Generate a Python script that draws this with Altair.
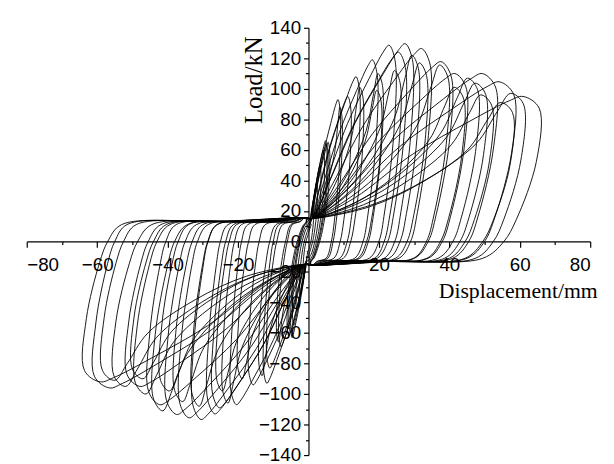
import altair as alt
import pandas as pd

# ---- Peak values of each load cycle ----
pos_disp = [1.5, 2.5, 3.5, 4.5, 5.2, 5.5, 6.0, 9.0, 9.5, 12.0, 14.5, 15.5, 19.5, 20.6, 21.0,
            24.6, 27.5, 26.0, 29.5, 31.2, 33.5, 34.5, 40.5, 39.6, 44.7, 44.0, 48.0, 53.1,
            50.3, 52.0, 58.3, 61.0, 57.9, 65.5]
pos_load = [25, 38, 50, 60, 66, 64, 65, 93, 88, 95, 108, 101, 119, 99, 110,
            128.6, 124, 112, 129.6, 122, 117, 126.4, 117.8, 115.6, 110, 101, 107, 110,
            103.7, 96, 104.6, 97, 91, 95]
pos_zero = [0.7, 1.2, 1.8, 2.3, 2.7, 2.9, 3.2, 6.5, 7.0, 9.0, 11.0, 12.0, 15.5, 16.5, 17.0,
            20.0, 22.5, 21.5, 24.5, 26.0, 28.0, 29.0, 34.0, 33.5, 38.0, 37.5, 41.0, 45.5,
            43.0, 44.5, 50.0, 52.5, 49.5, 55.5]
pos_full = [1, 1, 1, 1, 1, 1, 1, 1, 0, 1, 1, 0, 1, 0, 0,
            1, 1, 0, 1, 0, 0, 1, 1, 0, 1, 0, 0, 1,
            0, 0, 1, 0, 0, 1]
neg_disp = [-1.5, -2.5, -3.5, -4.5, -5.0, -5.5, -6.0, -8.4, -9.0, -11.8, -12.7, -14.0, -16.9,
            -20.0, -22.0, -24.3, -27.2, -26.0, -28.6, -32.8, -33.0, -36.5, -40.3, -38.0, -44.0,
            -45.4, -42.0, -49.1, -51.5, -50.0, -55.2, -58.5, -60.8, -63.6]
neg_load = [-22, -35, -45, -55, -63, -60, -62, -69, -66, -83, -93, -88, -94,
            -90, -107, -106, -109, -98, -113, -116.7, -108, -115.6, -113.4, -105, -111,
            -107, -98, -100, -95, -90, -95, -91, -96, -92]
neg_zero = [-0.7, -1.2, -1.8, -2.3, -2.6, -2.9, -3.2, -6.0, -6.5, -9.0, -10.0, -11.0, -14.0,
            -17.0, -19.0, -21.0, -23.5, -22.5, -25.0, -28.5, -28.6, -31.5, -35.0, -33.0, -38.0,
            -40.5, -37.0, -43.0, -45.5, -44.0, -48.5, -52.5, -55.0, -57.0]
neg_full = [1, 1, 1, 1, 1, 1, 1, 1, 0, 1, 1, 0, 1,
            0, 1, 0, 1, 0, 1, 1, 0, 1, 1, 0, 0,
            1, 0, 0, 1, 0, 0, 0, 1, 1]

x_major = [-80, -60, -40, -20, 20, 40, 60, 80]
x_minor = [-70, -50, -30, -10, 10, 30, 50, 70]
y_major = [-140, -120, -100, -80, -60, -40, -20, 0, 20, 40, 60, 80, 100, 120, 140]
y_minor = [-130, -110, -90, -70, -50, -30, -10, 10, 30, 50, 70, 90, 110, 130]

FULL = [(0.2, 0.3), (0.45, 0.6), (0.7, 0.83), (0.87, 0.97), (0.93, 1.0), (1.0, 0.92)]
PINCHED = [(0.3, 0.25), (0.55, 0.42), (0.78, 0.66), (0.88, 0.88), (0.94, 1.0), (1.0, 0.93)]


def half_cycle(D, P, Z, full, s):
    aD, aP, aZ = abs(D), abs(P), abs(Z)
    band = min(13.0, 0.2 * aP)
    pts = [(min(1.0, 0.3 * aD), min(15.0, 0.3 * aP))]
    for fx, fy in (FULL if full else PINCHED):
        pts.append((fx * aD, fy * aP))
    w = aD - aZ
    pts += [(aD - 0.08 * w, 0.55 * aP), (aZ + 0.35 * w, 0.15 * aP), (aZ, 0.0)]
    b1 = aZ - 0.6 * w
    pts += [(b1, -0.85 * band), (0.5 * b1, -band), (min(1.0, 0.3 * b1), -1.2 * band)]
    return [(s * x, s * y) for x, y in pts]


rows = []
i = 0
for k in range(len(pos_disp)):
    path = half_cycle(pos_disp[k], pos_load[k], pos_zero[k], pos_full[k], 1) + \
        half_cycle(neg_disp[k], neg_load[k], neg_zero[k], neg_full[k], -1)
    for (x, y) in path:
        rows.append({"i": i, "disp": x, "load": y})
        i += 1
df = pd.DataFrame(rows)

W, H = 571, 433
xs = alt.Scale(domain=[-80, 80], nice=False)
ys = alt.Scale(domain=[-140, 140], nice=False)

common = dict(domainColor="black", tickColor="black", labelColor="black",
              labelFont="Liberation Sans", labelFontSize=19, grid=False, zindex=1)

x_axis = alt.Axis(orient="bottom", offset=-H / 2, values=x_major, tickSize=6, tickWidth=1.2,
                  domainWidth=1.2, labelPadding=8, title="Displacement/mm",
                  titleFont="Liberation Serif", titleFontSize=22, titleFontWeight="normal",
                  titleColor="black", titleX=417, titleY=57, titleAlign="left",
                  titleBaseline="alphabetic", titleAngle=0, **common)
y_axis = alt.Axis(orient="left", offset=-W / 2, values=y_major, tickSize=5, tickWidth=1.2,
                  domainWidth=1.2, labelPadding=3, title="Load/kN",
                  titleFont="Liberation Serif", titleFontSize=25, titleFontWeight="normal",
                  titleColor="black", titleX=-48, titleY=97, titleAlign="left",
                  titleBaseline="alphabetic", titleAngle=270, **common)

x_axis_minor = alt.Axis(orient="bottom", offset=-H / 2, values=x_minor, tickSize=3,
                        tickWidth=1.2, labels=False, domain=False, title=None,
                        tickColor="black", grid=False, zindex=1)
y_axis_minor = alt.Axis(orient="left", offset=-W / 2, values=y_minor, tickSize=3,
                        tickWidth=1.2, labels=False, domain=False, title=None,
                        tickColor="black", grid=False, zindex=1)

curves = alt.Chart(df).mark_line(color="black", strokeWidth=0.9,
                                 interpolate="catmull-rom").encode(
    x=alt.X("disp:Q", scale=xs, axis=x_axis),
    y=alt.Y("load:Q", scale=ys, axis=y_axis),
    order=alt.Order("i:Q"),
)

minor = alt.Chart(df).mark_line(strokeOpacity=0).encode(
    x=alt.X("disp:Q", scale=xs, axis=x_axis_minor),
    y=alt.Y("load:Q", scale=ys, axis=y_axis_minor),
    order=alt.Order("i:Q"),
)

chart = alt.layer(curves, minor).resolve_axis(x="independent", y="independent").properties(
    width=W, height=H,
    autosize=alt.AutoSizeParams(type="none"),
    padding={"left": 19, "top": 17, "right": 16, "bottom": 6},
).configure(background="white", view=alt.ViewConfig(stroke="transparent"))

chart.save("out.html", embed_options={"renderer": "svg", "actions": False})
